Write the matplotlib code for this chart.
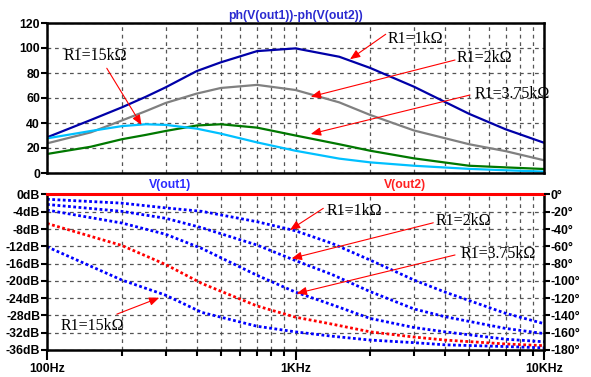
import numpy as np
import matplotlib
matplotlib.use("Agg")
import matplotlib.pyplot as plt
from matplotlib.ticker import FixedLocator, NullFormatter

# ---------------- data ----------------
# top panel: phase difference ph(V(out1))-ph(V(out2)) in degrees
f_top = [100, 150, 200, 250, 300, 400, 500, 700, 1000, 1500, 2000, 3000, 5000, 7000, 10000]
ph_1k = [28.5, 42.4, 52.5, 61, 68.5, 81.5, 88.5, 97.5, 99.7, 93, 84, 69, 47.3, 35, 24.2]
ph_2k = [23.7, 32.5, 42, 49.5, 56, 63.5, 68, 70.5, 66.4, 56.5, 46.4, 34, 23, 17.5, 10.2]
ph_375k = [15.2, 21, 27, 30.5, 33.6, 38, 39, 36.3, 30, 23, 17.8, 11.7, 5.8, 4.5, 3.2]
ph_15k = [27.7, 33.6, 37.5, 39, 38.5, 35.5, 31.5, 24.5, 17.8, 11.5, 8.5, 5.8, 3.3, 2.2, 1.1]

# bottom panel: magnitude in dB
f_bot = [100, 200, 300, 420, 700, 1000, 1400, 2000, 3000, 4000, 7000, 10000]
db_1k = [-1.1, -2.0, -3.1, -3.9, -6.3, -8.4, -11.3, -15.2, -19.8, -22.6, -27.5, -29.9]
db_2k = [-2.3, -3.9, -5.5, -7.7, -11.7, -15.3, -18.5, -22.5, -26.5, -28.3, -31.0, -32.2]
db_375k = [-3.6, -6.6, -9.2, -12.5, -18.7, -22.6, -25.5, -28.7, -30.8, -31.8, -33.5, -34.1]
db_red = [-6.7, -11.8, -16.2, -20.6, -25.8, -28.4, -30.0, -31.8, -33.0, -33.7, -34.6, -35.0]
db_15k = [-12.1, -19.8, -23.3, -27.3, -30.5, -31.8, -32.8, -33.7, -34.3, -34.8, -35.2, -35.5]
db_out1 = [0, 0]
f_out1 = [100, 10000]

x_ticks = [100, 1000, 10000]
x_ticklabels = ["100Hz", "1KHz", "10KHz"]
top_yticks = [0, 20, 40, 60, 80, 100, 120]
db_ticks = list(range(0, -37, -4))
db_ticklabels = [f"{v}dB" for v in db_ticks]
deg_ticks = list(range(0, -181, -20))
deg_ticklabels = [f"{v}°" for v in deg_ticks]

labels = ["R1=1kΩ", "R1=2kΩ", "R1=3.75kΩ", "R1=15kΩ"]

# ---------------- figure ----------------
W, H = 591, 377
fig = plt.figure(figsize=(W / 100, H / 100), dpi=100)
plt.rcParams['font.family'] = ['Liberation Sans', 'DejaVu Sans']

def fx(px):
    return px / W

def fy(py):
    return 1 - py / H

ax1 = fig.add_axes([fx(47), fy(173), fx(544) - fx(47), fy(23) - fy(173)])
ax2 = fig.add_axes([fx(47), fy(350), fx(544) - fx(47), fy(194.5) - fy(350)])

grid_kw = dict(color="#555555", lw=0.9, linestyle=(0, (3, 3)))
minor_f = [m * d for d in (100, 1000) for m in range(2, 10)]

for ax in (ax1, ax2):
    ax.set_xscale("log")
    ax.set_xlim(100, 10000)
    ax.xaxis.set_major_locator(FixedLocator(x_ticks))
    ax.xaxis.set_minor_locator(FixedLocator(minor_f))
    ax.xaxis.set_minor_formatter(NullFormatter())
    ax.grid(True, which="both", axis="x", **grid_kw)
    ax.grid(True, which="major", axis="y", **grid_kw)
    for s in ax.spines.values():
        s.set_linewidth(1.8)
        s.set_color("black")
    ax.set_axisbelow(True)

# ---- top panel ----
ax1.set_ylim(0, 120)
ax1.set_yticks(top_yticks)
ax1.set_yticklabels([str(v) for v in top_yticks], fontsize=8.8, fontweight="bold")
ax1.tick_params(axis="y", direction="out", length=4, width=1.5, pad=1)
ax1.tick_params(axis="x", which="both", length=0, labelbottom=False)

ax1.plot(f_top, ph_1k, color="#0000a8", lw=1.6)
ax1.plot(f_top, ph_2k, color="#808080", lw=1.6)
ax1.plot(f_top, ph_375k, color="#007800", lw=1.6)
ax1.plot(f_top, ph_15k, color="#00c0ff", lw=1.6)

ax1.set_title("ph(V(out1))-ph(V(out2))", color="#2a2ad0", fontsize=8.8,
              fontweight="bold", pad=3)

arrow_kw = dict(arrowstyle="-|>,head_length=0.6,head_width=0.25", color="red",
                lw=0.8, shrinkA=0, shrinkB=0)
txt_kw = dict(family=["Liberation Serif", "DejaVu Serif"], fontsize=11.5,
              va="center", ha="left")

# annotations top (text pos, arrow start, arrow tip)
top_ann = [
    (labels[0], (2350, 107.2), (2307, 111), (1657, 91)),
    (labels[1], (4453, 92.4), (4385, 90.4), (1152, 61)),
    (labels[2], (5277, 63.2), (5036, 62.4), (1152, 31.2)),
    (labels[3], (117, 93.6), (174, 83.8), (240, 38.4)),
]
for lab, tp, st, tip in top_ann:
    ax1.annotate("", xy=tip, xytext=st, arrowprops=arrow_kw, annotation_clip=False)
    ax1.text(tp[0], tp[1], lab, clip_on=False, **txt_kw)

# ---- bottom panel ----
ax2.set_ylim(-36, 0)
ax2.set_yticks(db_ticks)
ax2.set_yticklabels(db_ticklabels, fontsize=8.8, fontweight="bold")
ax2.tick_params(axis="y", direction="out", length=4, width=1.5, pad=1)
ax2.set_xticklabels(x_ticklabels, fontsize=8.8, fontweight="bold")
ax2.tick_params(axis="x", which="major", direction="out", length=7, width=1.5, pad=2)
ax2.tick_params(axis="x", which="minor", direction="out", length=4, width=1.5)
ax2.spines["top"].set_visible(False)

dot = (0, (1.0, 0.9))
ax2.plot(f_bot, db_1k, color="#0000ff", lw=2.0, linestyle=dot)
ax2.plot(f_bot, db_2k, color="#0000ff", lw=2.0, linestyle=dot)
ax2.plot(f_bot, db_375k, color="#0000ff", lw=2.0, linestyle=dot)
ax2.plot(f_bot, db_red, color="#ff0000", lw=2.0, linestyle=dot)
ax2.plot(f_bot, db_15k, color="#0000ff", lw=2.0, linestyle=dot)
ax2.plot(f_out1, db_out1, color="#ff0000", lw=2.2, clip_on=False, zorder=5)

axr = ax2.twinx()
axr.set_ylim(-180, 0)
axr.set_yticks(deg_ticks)
axr.set_yticklabels(deg_ticklabels, fontsize=8.8, fontweight="bold")
axr.tick_params(axis="y", direction="out", length=4, width=1.5, pad=1)
for s in axr.spines.values():
    s.set_visible(False)

fig.text(fx(170), fy(185), "V(out1)", color="#2a2aff", fontsize=8.8,
         fontweight="bold", ha="center", va="center")
fig.text(fx(405), fy(185), "V(out2)", color="#ff2020", fontsize=8.8,
         fontweight="bold", ha="center", va="center")

bot_ann = [
    (labels[0], (1335, -3.8), (1294, -3.2), (950, -8.2)),
    (labels[1], (3665, -6.1), (3585, -6.55), (965, -14.8)),
    (labels[2], (4620, -13.8), (4385, -14.0), (1011, -22.9)),
    (labels[3], (113, -30.4), (191, -27.7), (283, -23.9)),
]
for lab, tp, st, tip in bot_ann:
    ax2.annotate("", xy=tip, xytext=st, arrowprops=arrow_kw, annotation_clip=False)
    ax2.text(tp[0], tp[1], lab, clip_on=False, **txt_kw)

fig.savefig("out.png", dpi=100, facecolor="white")
